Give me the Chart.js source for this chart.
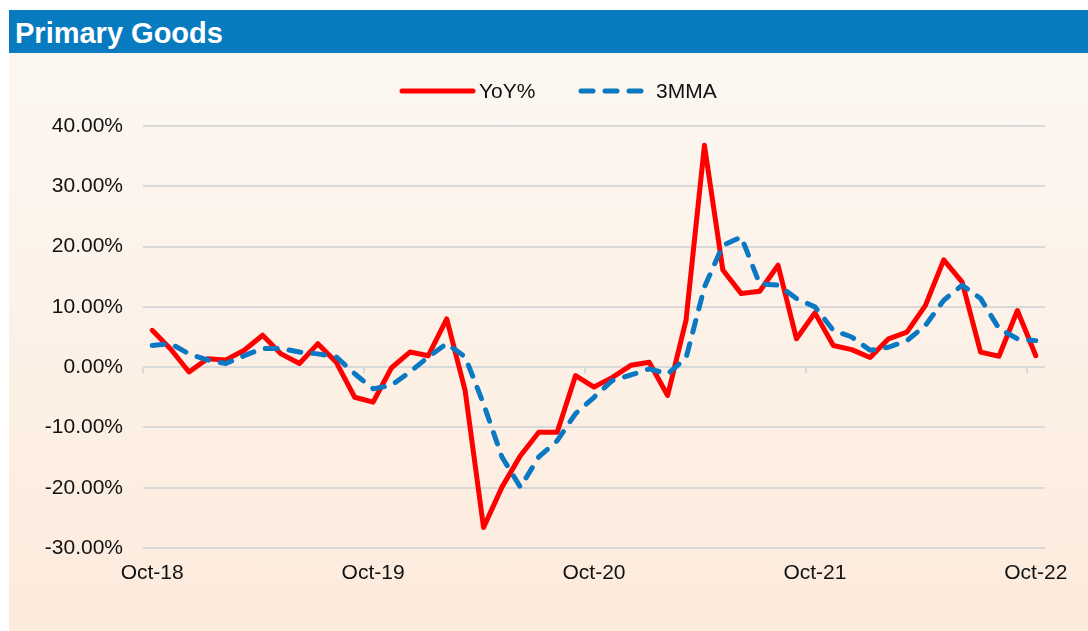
<!DOCTYPE html>
<html>
<head>
<meta charset="utf-8">
<script src="https://cdn.jsdelivr.net/npm/chart.js@4/dist/chart.umd.min.js"></script>
<style>
  html, body { margin: 0; padding: 0; background: #ffffff; }
  body { width: 1088px; height: 631px; position: relative; overflow: hidden; font-family: "Liberation Sans", Arial, sans-serif; }
  #titlebar { position: absolute; left: 9px; top: 10px; width: 1079px; height: 43px; background: #087BC0; }
  #titlebar span { position: absolute; left: 6px; top: 7px; color: #fff; font-weight: bold; font-size: 29px; line-height: 32px; }
  #panel { position: absolute; left: 9px; top: 53px; width: 1079px; height: 578px; background: linear-gradient(#FCF7F2, #FDEBDC); }
  #wrap { position: absolute; left: 0; top: 0; width: 1088px; height: 631px; }
</style>
</head>
<body>
<div id="titlebar"><span>Primary Goods</span></div>
<div id="panel"></div>
<div id="wrap"><canvas id="c" width="1088" height="631"></canvas></div>
<script>
const months = [
  "Oct-18","Nov-18","Dec-18","Jan-19","Feb-19","Mar-19","Apr-19","May-19","Jun-19","Jul-19","Aug-19","Sep-19",
  "Oct-19","Nov-19","Dec-19","Jan-20","Feb-20","Mar-20","Apr-20","May-20","Jun-20","Jul-20","Aug-20","Sep-20",
  "Oct-20","Nov-20","Dec-20","Jan-21","Feb-21","Mar-21","Apr-21","May-21","Jun-21","Jul-21","Aug-21","Sep-21",
  "Oct-21","Nov-21","Dec-21","Jan-22","Feb-22","Mar-22","Apr-22","May-22","Jun-22","Jul-22","Aug-22","Sep-22",
  "Oct-22"
];
const yoy = [
  6.1, 3.0, -0.8, 1.4, 1.2, 2.8, 5.3, 2.2, 0.6, 3.9, 0.8, -5.0,
  -5.8, -0.1, 2.5, 1.9, 8.0, -3.9, -26.6, -19.9, -14.7, -10.8, -10.8, -1.4,
  -3.3, -1.7, 0.3, 0.8, -4.7, 7.8, 36.8, 16.1, 12.2, 12.6, 16.9, 4.7,
  9.0, 3.6, 2.9, 1.6, 4.7, 5.8, 10.2, 17.8, 14.1, 2.5, 1.8, 9.4,
  1.9
];
const mma3 = [
  3.6, 3.9, 2.2, 1.2, 0.6, 1.9, 3.1, 3.1, 2.5, 2.2, 1.7, -1.1,
  -3.6, -3.0, -0.8, 1.7, 3.9, 1.7, -6.1, -14.9, -19.9, -14.9, -12.2, -7.7,
  -5.0, -2.2, -1.3, -0.3, -1.1, 1.5, 13.3, 20.2, 21.6, 13.8, 13.6, 11.4,
  10.0, 6.1, 5.0, 2.8, 3.3, 4.4, 6.9, 11.1, 13.6, 11.4, 6.4, 4.7,
  4.4
];
const yTicks = [-30, -20, -10, 0, 10, 20, 30, 40];
const seriesNames = ["YoY%", "3MMA"];
const labelEvery = 12;

const FONT = "'Liberation Sans', Arial, sans-serif";
const TEXT = "#111111";

const legendPlugin = {
  id: 'customLegend',
  afterDraw(chart) {
    const ctx = chart.ctx;
    const items = [
      { x0: 402, x1: 473, tx: 479 },
      { x0: 581, x1: 644, tx: 656 }
    ];
    const y = 91;
    ctx.save();
    chart.data.datasets.forEach((ds, i) => {
      const it = items[i];
      ctx.beginPath();
      ctx.strokeStyle = ds.borderColor;
      ctx.lineWidth = ds.borderWidth;
      ctx.lineCap = 'round';
      ctx.setLineDash(ds.borderDash || []);
      ctx.moveTo(it.x0, y);
      ctx.lineTo(it.x1, y);
      ctx.stroke();
      ctx.setLineDash([]);
      ctx.fillStyle = TEXT;
      ctx.font = "21px " + FONT;
      ctx.textBaseline = 'middle';
      ctx.textAlign = 'left';
      ctx.fillText(ds.label, it.tx, y + 1);
    });
    ctx.restore();
  }
};

const tickMarkPlugin = {
  id: 'catTicks',
  beforeDatasetsDraw(chart) {
    const xs = chart.scales.x, ys = chart.scales.y;
    const ctx = chart.ctx;
    const y0 = ys.getPixelForValue(0);
    const half = (xs.getPixelForValue(1) - xs.getPixelForValue(0)) / 2;
    ctx.save();
    ctx.strokeStyle = '#D9D9D9';
    ctx.lineWidth = 2;
    for (let i = 0; i < months.length; i += labelEvery) {
      const x = Math.round(xs.getPixelForValue(i) - half);
      ctx.beginPath();
      ctx.moveTo(x, y0);
      ctx.lineTo(x, y0 + 6);
      ctx.stroke();
    }
    ctx.restore();
  }
};

new Chart(document.getElementById('c'), {
  type: 'line',
  data: {
    labels: months,
    datasets: [
      {
        label: seriesNames[0],
        data: yoy,
        borderColor: '#FF0000',
        borderWidth: 5,
        pointRadius: 0,
        tension: 0,
        borderJoinStyle: 'round',
        borderCapStyle: 'round',
        fill: false,
        order: 1
      },
      {
        label: seriesNames[1],
        data: mma3,
        borderColor: '#0A78C2',
        borderWidth: 5,
        borderDash: [12, 12],
        borderCapStyle: 'round',
        borderJoinStyle: 'round',
        pointRadius: 0,
        tension: 0,
        fill: false,
        order: 0
      }
    ]
  },
  options: {
    responsive: false,
    animation: false,
    events: [],
    layout: { padding: { left: 0, right: 43, top: 126, bottom: 0 } },
    plugins: {
      legend: { display: false },
      title: { display: false },
      tooltip: { enabled: false }
    },
    scales: {
      x: {
        type: 'category',
        offset: true,
        grid: { display: false, drawTicks: false },
        border: { display: false },
        ticks: {
          autoSkip: false,
          maxRotation: 0,
          minRotation: 0,
          padding: 13,
          color: TEXT,
          font: { family: FONT, size: 21 },
          callback: function(v, i) { return i % labelEvery === 0 ? months[i] : null; }
        },
        afterFit(s) { s.height = 83; }
      },
      y: {
        min: yTicks[0],
        max: yTicks[yTicks.length - 1],
        afterBuildTicks(s) { s.ticks = yTicks.map(v => ({ value: v })); },
        grid: { color: '#D9D9D9', lineWidth: 2, drawTicks: false },
        border: { display: false },
        ticks: {
          padding: 20,
          color: TEXT,
          font: { family: FONT, size: 21 },
          callback: v => v.toFixed(2) + '%'
        },
        afterFit(s) { s.width = 143; }
      }
    }
  },
  plugins: [tickMarkPlugin, legendPlugin]
});
</script>
</body>
</html>
